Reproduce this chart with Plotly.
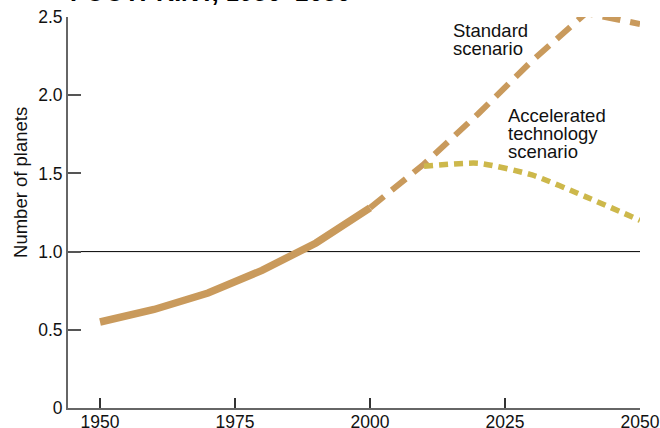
import plotly.graph_objects as go

hist_years = [1950, 1960, 1970, 1980, 1990, 2000]
hist_values = [0.55, 0.63, 0.735, 0.88, 1.055, 1.28]

std_years = [2000, 2010, 2020, 2030, 2040, 2050]
std_values = [1.28, 1.56, 1.88, 2.22, 2.525, 2.455]

acc_years = [2010, 2020, 2030, 2040, 2050]
acc_values = [1.545, 1.565, 1.49, 1.35, 1.20]

y_ticks = [0, 0.5, 1.0, 1.5, 2.0, 2.5]
y_tick_labels = ["0", "0.5", "1.0", "1.5", "2.0", "2.5"]
x_ticks = [1950, 1975, 2000, 2025, 2050]

std_label = ["Standard", "scenario"]
acc_label = ["Accelerated", "technology", "scenario"]

tan = "#C99A5C"
yellow = "#CDB84B"
font = "Liberation Sans, Arial, Helvetica, sans-serif"

fig = go.Figure()
fig.add_trace(go.Scatter(x=std_years, y=std_values, mode="lines",
                         line=dict(color=tan, width=6, dash="18px,10px"),
                         hoverinfo="skip"))
fig.add_trace(go.Scatter(x=acc_years, y=acc_values, mode="lines",
                         line=dict(color=yellow, width=5.5, dash="9px,6px", shape="spline", smoothing=0.6),
                         hoverinfo="skip"))
fig.add_trace(go.Scatter(x=hist_years, y=hist_values, mode="lines",
                         line=dict(color=tan, width=7.5),
                         hoverinfo="skip"))

fig.add_shape(type="line", xref="paper", yref="y", x0=0, x1=1, y0=1.0, y1=1.0,
              line=dict(color="black", width=1), layer="below")

# scenario labels, one annotation per line for tight leading
for i, t in enumerate(std_label):
    fig.add_annotation(xref="paper", yref="paper", x=0.669, y=0.965 - i * 0.0465,
                       xanchor="left", yanchor="middle", text=t, showarrow=False,
                       font=dict(family=font, size=18.5, color="#111"))
for i, t in enumerate(acc_label):
    fig.add_annotation(xref="paper", yref="paper", x=0.766, y=0.749 - i * 0.0466,
                       xanchor="left", yanchor="middle", text=t, showarrow=False,
                       font=dict(family=font, size=18.5, color="#111"))

# y-axis title placed as annotation (it sits above the axis centre in the reference)
fig.add_annotation(xref="paper", yref="paper", x=-0.084, y=0.578, xanchor="center", yanchor="middle",
                   text="Number of planets", textangle=-90, showarrow=False,
                   font=dict(family=font, size=18.5, color="#111"))

# top title, cut off by the top edge as in the reference
fig.add_annotation(xref="paper", yref="paper", x=0.0, y=1.023, xanchor="left", yanchor="bottom",
                   text="<b>FOOTPRINT,</b> 1950–2050", showarrow=False, align="left",
                   font=dict(family=font, size=25, color="black"))

fig.update_layout(
    width=660, height=428,
    margin=dict(l=68, r=20, t=17, b=20),
    plot_bgcolor="white", paper_bgcolor="white",
    showlegend=False,
    font=dict(family=font, size=17.5, color="#111"),
    xaxis=dict(range=[1944.07, 2050], tickvals=x_ticks, ticks="inside", ticklen=10,
               tickwidth=1.5, tickcolor="#333", showline=True, linecolor="#666",
               linewidth=2, showgrid=False, zeroline=False, automargin=False,
               ticklabelstandoff=-3,
               tickfont=dict(family=font, size=17.5, color="#111")),
    yaxis=dict(range=[0, 2.5], tickvals=y_ticks, ticktext=y_tick_labels, ticks="inside",
               ticklen=13, tickwidth=1.5, tickcolor="#555", showline=True, linecolor="#666",
               linewidth=2, showgrid=False, zeroline=False, automargin=False,
               tickfont=dict(family=font, size=17.5, color="#111")),
)

fig.write_html("out.html", config={"displayModeBar": False},
               post_script="document.body.style.margin='0';document.body.style.overflow='hidden';")
